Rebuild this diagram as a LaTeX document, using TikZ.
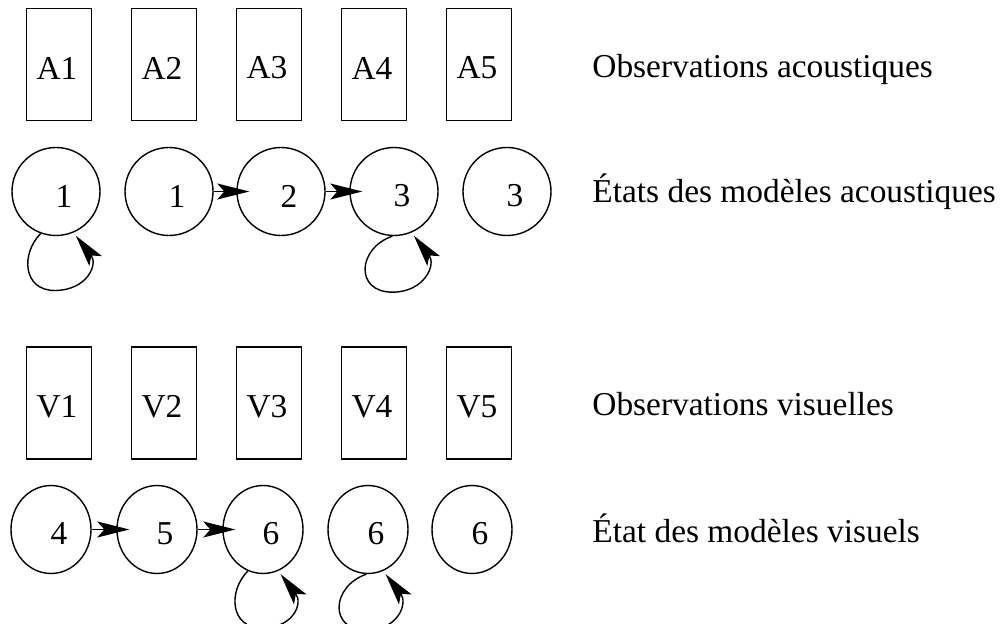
\documentclass[tikz,border=0pt]{standalone}
\usepackage{fontspec}
\setmainfont{Liberation Serif}
\usepackage{tikz}
\usetikzlibrary{arrows.meta, shapes.geometric}

\begin{document}
\begin{tikzpicture}[x=0.5pt, y=-0.5pt,
    every node/.style={font=\fontsize{16.7}{20}\selectfont},
    obs/.style={draw, line width=0.7pt, minimum width=32.5pt, minimum height=56pt, inner sep=0pt},
    etat/.style={draw, ellipse, line width=0.7pt, minimum width=44pt, minimum height=44pt, inner sep=0pt},
    etatv/.style={etat, minimum width=40pt},
    lblo/.style={xshift=-1pt, yshift=-1.75pt},
    lbl/.style={xshift=4pt, yshift=-2.25pt},
    pointe/.style={-{Stealth[length=16pt, width=8pt, inset=3.5pt]}, line width=0.7pt},
    fleche/.style={pointe, shorten >=-6.5pt},
    boucle/.style={pointe, shorten >=2pt}]
            \useasboundingbox (0,0) rectangle (1007,624);

            \node[obs, label={[lblo]center:A1}] (a1) at (59,64.5) {};
            \node[obs, label={[lblo]center:A2}] (a2) at (164,64.5) {};
            \node[obs, label={[lblo]center:A3}] (a3) at (269,64.5) {};
            \node[obs, label={[lblo]center:A4}] (a4) at (374,64.5) {};
            \node[obs, label={[lblo]center:A5}] (a5) at (479,64.5) {};
            \node[anchor=base west, inner sep=0pt] (tobsa) at (592,78) {Observations acoustiques};

            \node[etat, label={[lbl]center:1}] (ea1) at (56,191.5) {};
            \node[etat, label={[lbl]center:1}] (ea2) at (169,191.5) {};
            \node[etat, label={[lbl]center:2}] (ea3) at (281,191.5) {};
            \node[etat, label={[lbl]center:3}] (ea4) at (394,191.5) {};
            \node[etat, label={[lbl]center:3}] (ea5) at (507,191.5) {};
            \node[anchor=base west, inner sep=0pt] (tetata) at (592,203) {États des modèles acoustiques};

            \node[obs, label={[lblo]center:V1}] (v1) at (59,403) {};
            \node[obs, label={[lblo]center:V2}] (v2) at (164,403) {};
            \node[obs, label={[lblo]center:V3}] (v3) at (269,403) {};
            \node[obs, label={[lblo]center:V4}] (v4) at (374,403) {};
            \node[obs, label={[lblo]center:V5}] (v5) at (479,403) {};
            \node[anchor=base west, inner sep=0pt] (tobsv) at (592,416) {Observations visuelles};

            \node[etatv, label={[lbl]center:4}] (ev1) at (51,529.5) {};
            \node[etatv, label={[lbl]center:5}] (ev2) at (157,529.5) {};
            \node[etatv, label={[lbl]center:6}] (ev3) at (263,529.5) {};
            \node[etatv, label={[lbl]center:6}] (ev4) at (368,529.5) {};
            \node[etatv, label={[lbl]center:6}] (ev5) at (472,529.5) {};
            \node[anchor=base west, inner sep=0pt] (tetatv) at (592,543) {État des modèles visuels};

            \draw[fleche] (ea2) -- (ea3); % 1-2
            \draw[fleche] (ea3) -- (ea4); % 2-3
            \draw[fleche] (ev1) -- (ev2); % 4-5
            \draw[fleche] (ev2) -- (ev3); % 5-6

            \draw[boucle] (ea1.250) .. controls +(-20,20) and +(-32,0) .. +(14,57)
                .. controls +(32,0) and +(25,32) .. (ea1.-67); % 1-1
            \draw[boucle] (ea4.268) .. controls +(-35,12) and +(-38,0) .. +(0,56)
                .. controls +(32,0) and +(25,32) .. (ea4.-67); % 3-3
            \draw[boucle] (ev3.250) .. controls +(-20,20) and +(-32,0) .. +(14,57)
                .. controls +(32,0) and +(25,32) .. (ev3.-70); % 6-6
            \draw[boucle] (ev4.268) .. controls +(-35,12) and +(-38,0) .. +(0,56)
                .. controls +(32,0) and +(25,32) .. (ev4.-70); % 6-6
        \end{tikzpicture}
\end{document}
